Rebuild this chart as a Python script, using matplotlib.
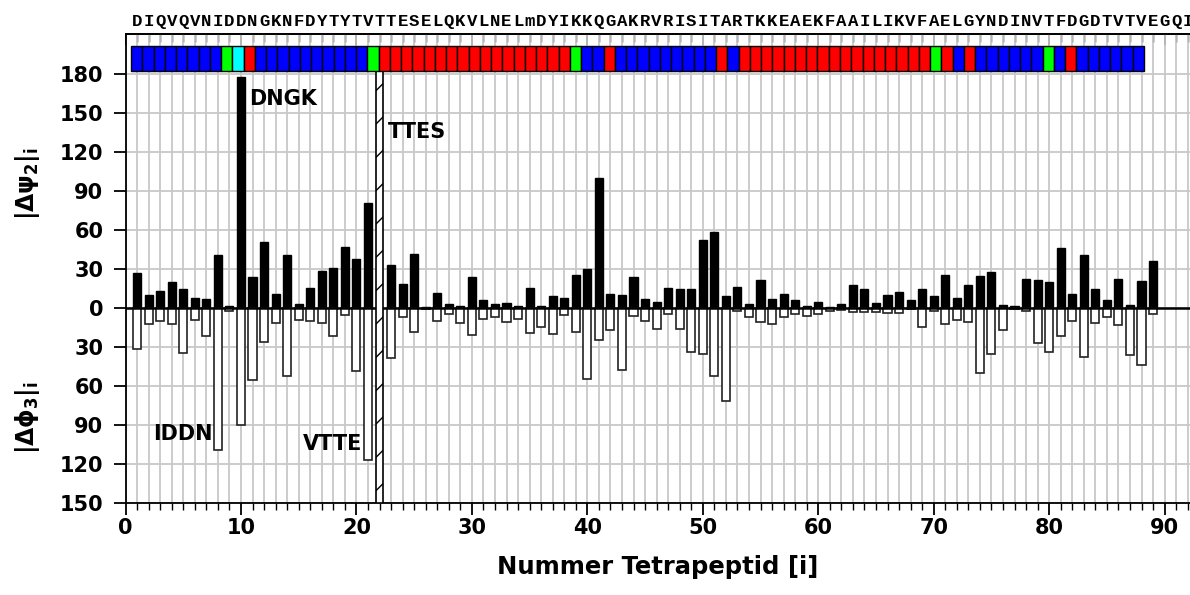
import numpy as np
import matplotlib.pyplot as plt
from matplotlib.ticker import MultipleLocator, FuncFormatter

plt.rcParams.update({
    'font.family': 'DejaVu Sans',
    'font.weight': 'bold',
    'mathtext.fontset': 'custom',
    'mathtext.rm': 'DejaVu Sans:bold',
    'mathtext.it': 'DejaVu Sans:bold',
    'mathtext.bf': 'DejaVu Sans:bold',
})

sequence = "DIQVQVNIDDNGKNFDYTYTVTTESELQKVLNELmDYIKKQGAKRVRISITARTKKEAEKFAAILIKVFAELGYNDINVTFDGDTVTVEGQI"

# |delta psi_2| and |delta phi_3| per tetrapeptide 1..89 (22 is excluded)
dpsi2 = [27, 10, 13, 20, 15, 8, 7, 41, 2, 178,
         24, 51, 11, 41, 3, 16, 29, 31, 47, 38,
         81, 0, 33, 19, 42, 1, 11.5, 3, 2, 24,
         6.4, 3, 4, 2, 16, 1.5, 9.5, 8, 25.6, 30,
         100, 11, 10.3, 23.8, 7.2, 4.6, 16, 14.9, 14.9, 52.6,
         58.5, 9.7, 16.2, 3.3, 21.5, 7.2, 11, 6.2, 2, 4.6,
         1.3, 3, 18, 14.9, 4.1, 10.5, 12.6, 6.7, 14.6, 9.7,
         25.4, 7.7, 17.9, 24.6, 28.2, 2.3, 2, 22.6, 21.8, 20.3,
         46.4, 11, 40.8, 15.1, 6.7, 22.8, 2.3, 21, 36.2]
dphi3 = [31, 12, 10, 12, 34.4, 9, 21.5, 109, 2, 89.5,
         55, 25.6, 11.5, 51.8, 9, 9.5, 11.5, 21.5, 5.4, 48.5,
         117, 0, 38.2, 6.7, 18, 0.8, 9.7, 4.6, 11.5, 20.5,
         8.2, 6.9, 10.8, 8.2, 19.2, 14.1, 19.5, 5.4, 18.5, 54.4,
         24.4, 17, 47.4, 5.9, 9.5, 16.2, 4.4, 15.9, 33.8, 35.4,
         52, 71.5, 2, 6.7, 10.3, 12.3, 6.9, 4.4, 6.2, 4.1,
         2, 1.3, 3.1, 3.1, 3.1, 3.8, 3.8, 0.5, 14.1, 2.3,
         12, 9, 10.3, 49.5, 34.9, 16.4, 0.8, 2.3, 26.7, 33.6,
         21, 9.7, 37.2, 11.3, 6.7, 13, 35.9, 43.3, 4.1]
excluded = [22]

# secondary structure strip: b = strand, r = helix, g = turn, c = bend
structure = ("b" * 8 + "gcr" + "b" * 10 + "g" + "r" * 17 + "g" + "bb" + "r"
             + "b" * 9 + "r" + "b" + "r" * 17 + "g" + "r" + "b" + "r"
             + "b" * 6 + "g" + "b" + "r" + "b" * 6)
ss_colors = {'b': '#0000ff', 'r': '#ff0000', 'g': '#00ff00', 'c': '#00ffff'}

labels = [("DNGK", 10.7, 161, 'left'), ("TTES", 22.7, 136, 'left'),
          ("IDDN", 7.5, -97, 'right'), ("VTTE", 20.5, -104, 'right')]

fig = plt.figure(figsize=(11.9, 5.95), dpi=100)
ax = fig.add_axes([0.1055, 0.1541, 0.8945, 0.7883])

y_top = 210.8
ax.set_xlim(0, 92.2)
ax.set_ylim(-150, y_top)

idx = np.arange(1, len(dpsi2) + 1)
keep = ~np.isin(idx, excluded)
psi = np.array(dpsi2)[keep]
phi = np.array(dphi3)[keep]

ax.bar(idx[keep], psi, width=0.7, color='black', edgecolor='black', lw=1, zorder=3)
ax.bar(idx[keep], -phi, width=0.7, facecolor='white', edgecolor='#222222', lw=1.2, zorder=3)

# hatched marker for the excluded tetrapeptide
plt.rcParams['hatch.linewidth'] = 1.0
for e in excluded:
    ax.bar(e, 182.5 + 150, bottom=-150, width=0.58, facecolor='white',
           edgecolor='black', hatch='/', lw=1.2, zorder=4)

ax.axhline(0, color='black', lw=1.8, zorder=3.5)

# secondary structure boxes
edges = np.linspace(0.48, 88.2, len(structure) + 1)
ax.bar(edges[:-1], 19.5, width=np.diff(edges), bottom=182.5, align='edge',
       color=[ss_colors[s] for s in structure], edgecolor='black', lw=1, zorder=5)

# sequence above the frame
for r, aa in enumerate(sequence, start=1):
    ax.text(r, 221, aa, ha='center', va='center', family='Liberation Mono',
            fontweight='bold', fontsize=12.5, clip_on=False)

for txt, x, y, ha in labels:
    ax.text(x, y, txt, ha=ha, va='center', fontsize=15, fontweight='bold', zorder=6)

ax.xaxis.set_major_locator(MultipleLocator(10))
ax.xaxis.set_minor_locator(MultipleLocator(1))
ax.set_yticks(np.arange(-150, 181, 30))
ax.yaxis.set_major_formatter(FuncFormatter(lambda v, p: f"{abs(v):.0f}"))

ax.grid(True, axis='x', which='both', color='#c8c8c8', lw=1.3, zorder=0)
ax.grid(True, axis='y', which='major', color='#c8c8c8', lw=1.3, zorder=0)
ax.set_axisbelow(True)

ax.tick_params(axis='both', which='major', labelsize=15, width=1.3)
ax.tick_params(axis='y', direction='out', length=9, pad=7)
ax.tick_params(axis='x', which='major', direction='out', length=8.5, pad=2)
ax.tick_params(axis='x', which='minor', direction='out', length=5, width=1)

top = ax.secondary_xaxis('top')
top.xaxis.set_major_locator(MultipleLocator(10))
top.xaxis.set_minor_locator(MultipleLocator(1))
top.tick_params(which='major', direction='in', length=8, width=1.3, labeltop=False)
top.tick_params(which='minor', direction='in', length=6, width=1)
top.spines['top'].set_linewidth(1.3)

ax.spines['right'].set_visible(False)
for s in ('left', 'bottom', 'top'):
    ax.spines[s].set_linewidth(1.3)

ax.set_xlabel("Nummer Tetrapeptid [i]", fontsize=17.5, fontweight='bold', labelpad=12)
fig.text(27.5 / 1190, 1 - 183 / 595, r'$|\Delta\psi_2|_i$', rotation=90,
         ha='center', va='center', fontsize=17)
fig.text(27.5 / 1190, 1 - 417 / 595, r'$|\Delta\phi_3|_i$', rotation=90,
         ha='center', va='center', fontsize=17)

fig.savefig('out.png', dpi=100)
